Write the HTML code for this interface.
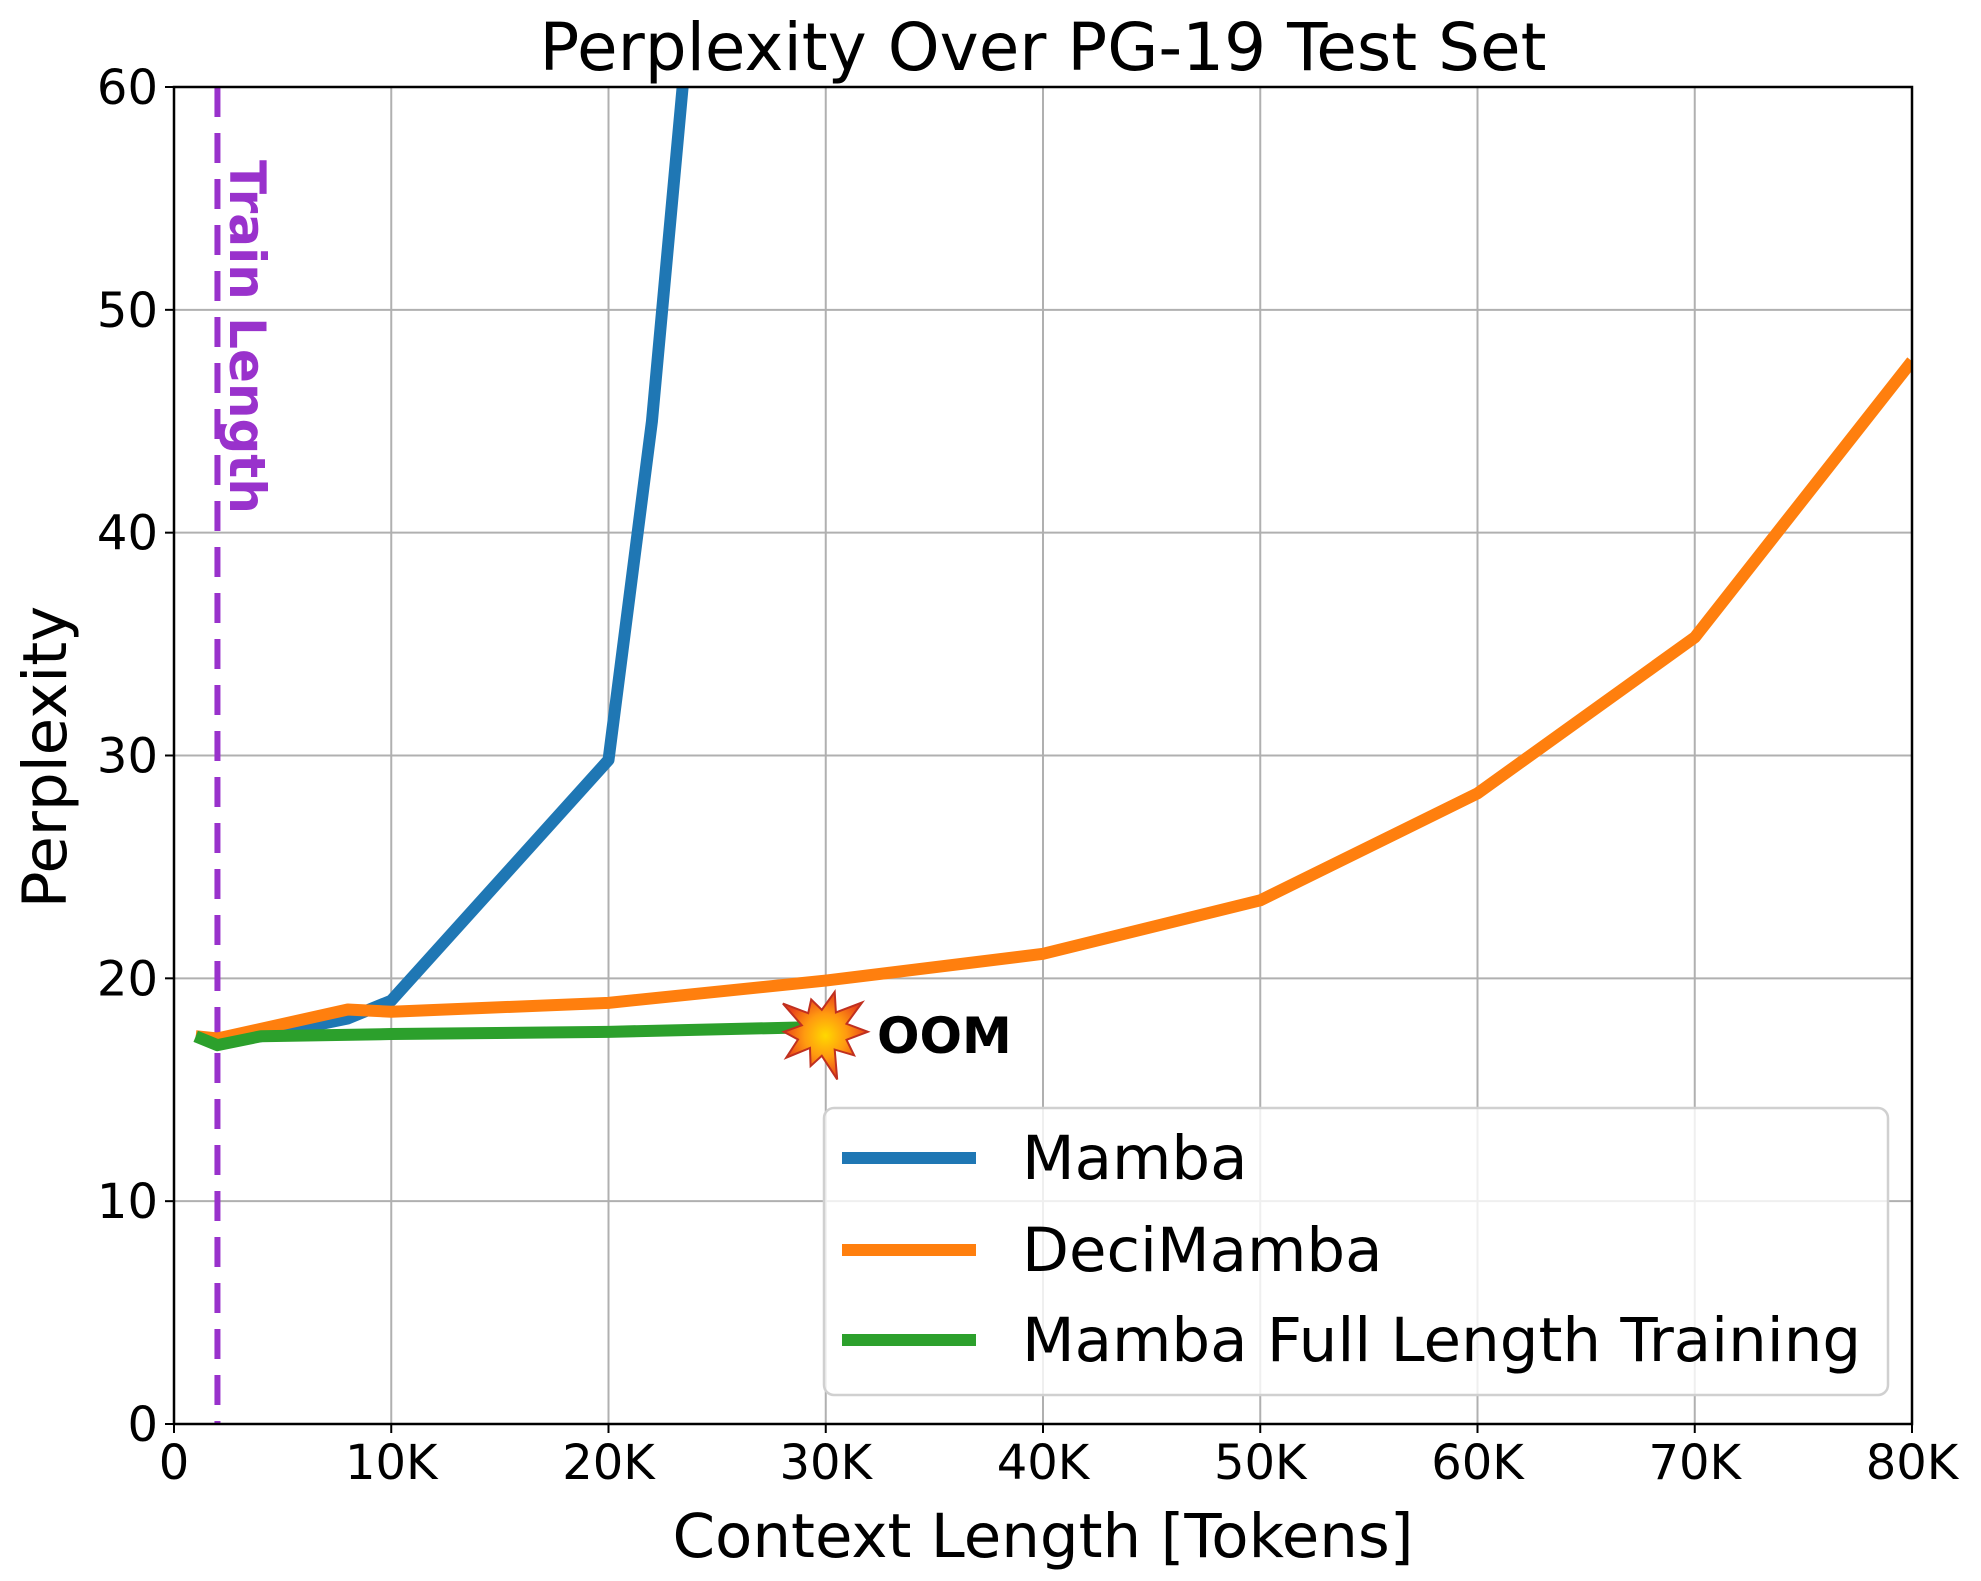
<!DOCTYPE html>
<html><head><meta charset="utf-8"><style>
html,body{margin:0;padding:0;background:#fff;}
svg{display:block;font-family:"DejaVu Sans","Liberation Sans",sans-serif;}
</style></head><body>
<svg id="chart" width="1981" height="1581" viewBox="0 0 1981 1581">
<defs>
<clipPath id="plotclip"><rect x="174" y="87" width="1738" height="1337"/></clipPath>
<radialGradient id="boom" cx="50%" cy="50%" r="50%"><stop offset="0" stop-color="#ffd800"/><stop offset="0.5" stop-color="#ff9a10"/><stop offset="1" stop-color="#e8401a"/></radialGradient>
</defs>
<g id="grid"></g>
<g id="series" clip-path="url(#plotclip)"></g>
<rect x="174" y="87" width="1738" height="1337" fill="none" stroke="#000" stroke-width="2.5"/>
<g id="ticks"></g>
<text x="1043" y="70" font-size="66" text-anchor="middle">Perplexity Over PG-19 Test Set</text>
<text x="1043" y="1557" font-size="61" text-anchor="middle">Context Length [Tokens]</text>
<text transform="translate(66,757) rotate(-90)" font-size="61" text-anchor="middle">Perplexity</text>
<text transform="translate(230,160) rotate(90)" font-size="50" font-weight="bold" fill="#9932cc">Train Length</text>
<g id="oom">
<polygon id="boomshape" fill="url(#boom)" stroke="#c03020" stroke-width="2"/>
<text x="877" y="1053" font-size="50" font-weight="bold">OOM</text>
</g>
<g id="legend">
<rect x="824" y="1108" width="1064" height="287" rx="10" fill="#fff" fill-opacity="0.8" stroke="#d0d0d0" stroke-width="2.5"/>
<line x1="842" y1="1158" x2="976" y2="1158" stroke="#1f77b4" stroke-width="12"/>
<text x="1022" y="1179" font-size="61">Mamba</text>
<line x1="842" y1="1250" x2="976" y2="1250" stroke="#ff7f0e" stroke-width="12"/>
<text x="1022" y="1271" font-size="61">DeciMamba</text>
<line x1="842" y1="1340" x2="976" y2="1340" stroke="#2ca02c" stroke-width="12"/>
<text x="1022" y="1361" font-size="61">Mamba Full Length Training</text>
</g>
</svg>
<script>
const xTicks = [0,10000,20000,30000,40000,50000,60000,70000,80000];
const xTickLabels = ["0","10K","20K","30K","40K","50K","60K","70K","80K"];
const yTicks = [0,10,20,30,40,50,60];
const yTickLabels = ["0","10","20","30","40","50","60"];
const mambaX = [1000,2000,4000,8000,10000,20000,22000,30000];
const mambaY = [17.4,17.2,17.4,18.2,19.0,29.8,45,130];
const deciX = [1000,2000,8000,10000,20000,30000,40000,50000,60000,70000,80000];
const deciY = [17.4,17.3,18.6,18.5,18.9,19.9,21.1,23.5,28.3,35.3,47.7];
const fullX = [1000,2000,4000,10000,20000,29000];
const fullY = [17.4,17.0,17.4,17.5,17.6,17.8];
const trainLength = 2000;
const oomX = 30000, oomY = 17.6;

const X0=174,X1=1912,Y0=1424,Y1=87;
const sx=v=>X0+(v-0)/(80000)*(X1-X0);
const sy=v=>Y0-(v/60)*(Y0-Y1);
const NS="http://www.w3.org/2000/svg";
const mk=(tag,attrs,parent)=>{const e=document.createElementNS(NS,tag);for(const k in attrs)e.setAttribute(k,attrs[k]);parent.appendChild(e);return e;};
const grid=document.getElementById('grid'),ticks=document.getElementById('ticks'),series=document.getElementById('series');

xTicks.forEach((t,i)=>{
  const g=mk('line',{x1:sx(t),x2:sx(t),y1:Y1,y2:Y0,stroke:'#b0b0b0','stroke-width':2},grid);
  
  
  const tk=mk('line',{x1:sx(t),x2:sx(t),y1:Y0,y2:Y0+9,stroke:'#000','stroke-width':2},ticks);
  
  
  const tx=mk('text',{x:sx(t),y:Y0+55,'font-size':48,'text-anchor':'middle'},ticks);
  tx.textContent=xTickLabels[i];
  
  
});
yTicks.forEach((t,i)=>{
  const g=mk('line',{x1:X0,x2:X1,y1:sy(t),y2:sy(t),stroke:'#b0b0b0','stroke-width':2},grid);
  
  
  const tk=mk('line',{x1:X0-9,x2:X0,y1:sy(t),y2:sy(t),stroke:'#000','stroke-width':2},ticks);
  
  
  const tx=mk('text',{x:X0-16,y:sy(t)+17,'font-size':48,'text-anchor':'end'},ticks);
  tx.textContent=yTickLabels[i];
  
  
});
const tl=mk('line',{x1:sx(trainLength),x2:sx(trainLength),y1:Y1,y2:Y0,stroke:'#9932cc','stroke-width':6,'stroke-dasharray':'30 16'},series);


function drawLine(xs,ys,color,name){
  const pts=xs.map((x,i)=>sx(x)+','+sy(ys[i])).join(' ');
  const p=mk('polyline',{points:pts,fill:'none',stroke:color,'stroke-width':12,'stroke-linejoin':'round'},series);
  
  
}
drawLine(mambaX,mambaY,'#1f77b4','mamba-line');
drawLine(deciX,deciY,'#ff7f0e','decimamba-line');
drawLine(fullX,fullY,'#2ca02c','full-length-line');
const cx=sx(oomX)-4,cy=sy(oomY);
const rs=[46,26,40,22,50,24,36,20,44,25,38,21,48,23,34,22,42,24,50,26];
const pts=rs.map((r,i)=>{const a=i/rs.length*Math.PI*2;return (cx+r*Math.cos(a)).toFixed(1)+','+(cy+r*Math.sin(a)).toFixed(1);}).join(' ');
document.getElementById('boomshape').setAttribute('points',pts);
</script>
</body></html>
